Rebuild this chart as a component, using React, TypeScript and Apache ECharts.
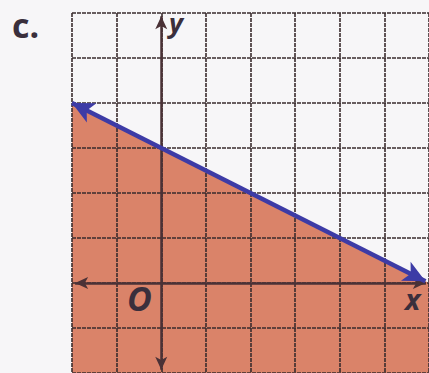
import React, { useEffect, useRef } from "react";
import * as echarts from "echarts";

const xRange = [-2, 6];
const yRange = [-2, 6];
const boundaryStart = [-2, 4];
const boundaryEnd = [5.92, 0.04];
const shadeData = [[-2, 4], [6, 0]];
const xAxisEnds = [[-1.93, 0], [5.93, 0]];
const yAxisEnds = [[0, 5.93], [0, -1.93]];

export default function App() {
  const ref = useRef<HTMLDivElement>(null);
  useEffect(() => {
    const chart = echarts.init(ref.current!, null, { renderer: "svg" });
    const gridColor = "#3a2c2e";
    const font = "Open Sans, Liberation Sans, sans-serif";
    chart.setOption({
      animation: false,
      backgroundColor: "#f7f6f8",
      grid: { left: 72, top: 13, width: 360, height: 360 },
      xAxis: {
        type: "value",
        min: xRange[0],
        max: xRange[1],
        interval: 1,
        z: 3,
        axisLine: { show: false },
        axisTick: { show: false },
        axisLabel: { show: false },
        splitLine: { show: true, lineStyle: { color: gridColor, width: 1.6, type: [4, 1] } },
      },
      yAxis: {
        type: "value",
        min: yRange[0],
        max: yRange[1],
        interval: 1,
        z: 3,
        axisLine: { show: false },
        axisTick: { show: false },
        axisLabel: { show: false },
        splitLine: { show: true, lineStyle: { color: gridColor, width: 1.6, type: [4, 1] } },
      },
      series: [
        {
          type: "line",
          data: shadeData,
          symbol: "none",
          lineStyle: { width: 0 },
          areaStyle: { color: "#da8369", opacity: 1, origin: "start" },
          z: 1,
        },
        {
          type: "line",
          data: [],
          z: 5,
          markLine: {
            silent: true,
            symbol: ["arrow", "arrow"],
            symbolSize: [9, 13],
            label: { show: false },
            lineStyle: { color: "#4a3136", width: 2.5, type: "solid" },
            data: [
              [{ coord: xAxisEnds[0] }, { coord: xAxisEnds[1] }],
              [{ coord: yAxisEnds[0] }, { coord: yAxisEnds[1] }],
            ],
          },
        },
        {
          type: "line",
          data: [],
          z: 6,
          markLine: {
            silent: true,
            symbol: ["arrow", "arrow"],
            symbolSize: [16, 22],
            label: { show: false },
            lineStyle: { color: "#3d3ba6", width: 4.5, type: "solid" },
            data: [[{ coord: boundaryStart }, { coord: boundaryEnd }]],
          },
        },
      ],
      graphic: [
        {
          type: "text",
          left: 12,
          top: 8,
          z: 100,
          style: { text: "c.", fontSize: 34, fontWeight: "bold", fontFamily: font, fill: "#3a2f3c" },
        },
        {
          type: "text",
          left: 169,
          top: 9,
          z: 100,
          style: { text: "y", fontSize: 27, fontWeight: "bold", fontStyle: "italic", fontFamily: font, fill: "#3a2f3c" },
        },
        {
          type: "text",
          left: 405,
          top: 284,
          z: 100,
          style: { text: "x", fontSize: 29, fontWeight: "bold", fontStyle: "italic", fontFamily: font, fill: "#3a2f3c" },
        },
        {
          type: "text",
          left: 127,
          top: 281,
          z: 100,
          style: { text: "O", fontSize: 34, fontWeight: "bold", fontStyle: "italic", fontFamily: font, fill: "#3a2f3c" },
        },
      ],
    });
    return () => chart.dispose();
  }, []);
  return (
    <div ref={ref} style={{ position: "fixed", left: 0, top: 0, width: 429, height: 373 }} />
  );
}
